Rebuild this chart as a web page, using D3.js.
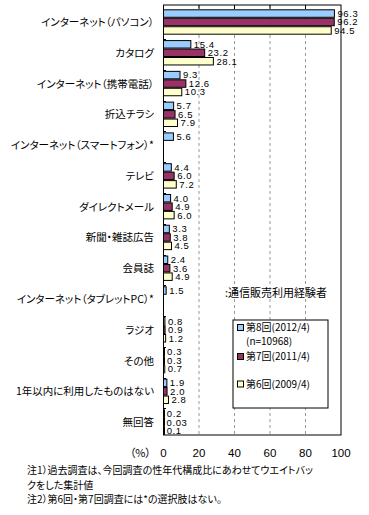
<!DOCTYPE html>
<html>
<head>
  <meta charset="utf-8">
  <style>
    body { margin: 0; background: #fff; }
    text { font-family: "Noto Sans CJK JP", sans-serif; fill: #000; font-feature-settings: "palt"; }
    .val { font-family: "Liberation Sans", Arial, sans-serif; font-size: 9.5px; letter-spacing: 0.6px; }
    .cat { font-size: 10.5px; }
    .grid { stroke: #999; stroke-dasharray: 3,3; }
  </style>
  <script src="https://d3js.org/d3.v7.min.js"></script>
</head>
<body>
  <script>
    const categories = [
      "インターネット（パソコン）", "カタログ", "インターネット（携帯電話）", "折込チラシ",
      "インターネット（スマートフォン）*", "テレビ", "ダイレクトメール", "新聞・雑誌広告",
      "会員誌", "インターネット（タブレットPC）*", "ラジオ", "その他",
      "1年以内に利用したものはない", "無回答"
    ];
    const series = ["第8回(2012/4)", "第7回(2011/4)", "第6回(2009/4)"];
    const colors = ["#99ccff", "#993366", "#ffffcc"];
    const wave8 = [96.3, 15.4, 9.3, 5.7, 5.6, 4.4, 4.0, 3.3, 2.4, 1.5, 0.8, 0.3, 1.9, 0.2];
    const wave7 = [96.2, 23.2, 12.6, 6.5, null, 6.0, 4.9, 3.8, 3.6, null, 0.9, 0.3, 2.0, 0.03];
    const wave6 = [94.5, 28.1, 10.3, 7.9, null, 7.2, 6.0, 4.5, 4.9, null, 1.2, 0.7, 2.8, 0.1];
    const valueText = [
      ["96.3", "15.4", "9.3", "5.7", "5.6", "4.4", "4.0", "3.3", "2.4", "1.5", "0.8", "0.3", "1.9", "0.2"],
      ["96.2", "23.2", "12.6", "6.5", null, "6.0", "4.9", "3.8", "3.6", null, "0.9", "0.3", "2.0", "0.03"],
      ["94.5", "28.1", "10.3", "7.9", null, "7.2", "6.0", "4.5", "4.9", null, "1.2", "0.7", "2.8", "0.1"]
    ];
    const xTicks = [0, 20, 40, 60, 80, 100];
    const notes = [
      "注1）過去調査は、今回調査の性年代構成比にあわせてウエイトバッ",
      "クをした集計値",
      "注2）第6回・第7回調査には*の選択肢はない。"
    ];

    const width = 369, height = 515;
    const plot = { left: 163.5, right: 341, top: 5, bottom: 435 };

    const svg = d3.select('body').append('svg')
      .attr('width', width).attr('height', height);

    const x = d3.scaleLinear().domain([0, 100]).range([plot.left, plot.right]);
    const y = d3.scaleBand().domain(categories).range([9.3, 434.8])
      .paddingInner(0.175).paddingOuter(0);
    const ySub = d3.scaleBand().domain([0, 1, 2]).range([0, y.bandwidth()]);

    // gridlines
    svg.selectAll('line.grid')
      .data(xTicks.filter(d => d > 0 && d < 100))
      .join('line').attr('class', 'grid')
      .attr('x1', d => x(d)).attr('x2', d => x(d))
      .attr('y1', plot.top).attr('y2', plot.bottom);

    // top ticks
    svg.selectAll('line.ttick')
      .data(xTicks.filter(d => d > 0 && d < 100))
      .join('line').attr('class', 'ttick')
      .attr('x1', d => x(d)).attr('x2', d => x(d))
      .attr('y1', plot.top).attr('y2', plot.top + 4)
      .attr('stroke', '#000');

    // category ticks on the left axis
    svg.selectAll('line.ctick')
      .data(categories.slice(1))
      .join('line').attr('class', 'ctick')
      .attr('x1', plot.left).attr('x2', plot.left + 2.5)
      .attr('y1', d => Math.round(y(d)) - 0.5).attr('y2', d => Math.round(y(d)) - 0.5)
      .attr('stroke', '#000');

    const all = [wave8, wave7, wave6];
    const bars = [];
    all.forEach((arr, s) => arr.forEach((v, i) => {
      if (v != null) bars.push({ s, i, v, label: valueText[s][i] });
    }));

    svg.selectAll('rect.bar')
      .data(bars)
      .join('rect').attr('class', 'bar')
      .attr('x', plot.left)
      .attr('y', d => y(categories[d.i]) + ySub(d.s) + 0.5)
      .attr('width', d => Math.max(1, x(d.v) - plot.left))
      .attr('height', ySub.bandwidth() - 1)
      .attr('fill', d => colors[d.s])
      .attr('stroke', '#000').attr('stroke-width', 1);

    svg.selectAll('text.val')
      .data(bars)
      .join('text').attr('class', 'val')
      .attr('x', d => x(d.v) + 3)
      .attr('y', d => y(categories[d.i]) + ySub(d.s) + ySub.bandwidth() / 2 + 3.4)
      .text(d => d.label);

    // frame
    svg.append('rect')
      .attr('x', plot.left).attr('y', plot.top)
      .attr('width', plot.right - plot.left).attr('height', plot.bottom - plot.top)
      .attr('fill', 'none').attr('stroke', '#000');

    // category labels
    svg.selectAll('text.cat')
      .data(categories)
      .join('text').attr('class', 'cat')
      .attr('x', 154)
      .attr('y', d => y(d) + y.bandwidth() / 2 + 4)
      .attr('text-anchor', 'end')
      .text(d => d);

    // x axis labels
    svg.selectAll('text.xt')
      .data(xTicks)
      .join('text').attr('class', 'xt')
      .attr('x', d => x(d)).attr('y', 457)
      .attr('text-anchor', 'middle')
      .style('font-family', '"Liberation Sans", Arial, sans-serif')
      .style('font-size', '11.5px')
      .text(d => d);
    svg.append('text').attr('x', 151).attr('y', 457)
      .attr('text-anchor', 'end').style('font-size', '11px').text('（%）');

    // subtitle in plot
    svg.append('text').attr('x', 225).attr('y', 297)
      .style('font-size', '11px').text(':通信販売利用経験者');

    // legend
    const lg = svg.append('g');
    lg.append('rect').attr('x', 233).attr('y', 320).attr('width', 95).attr('height', 88)
      .attr('fill', '#fff').attr('stroke', '#000');
    const legendY = [327.5, 356.5, 384];
    series.forEach((s, k) => {
      lg.append('rect').attr('x', 237.5).attr('y', legendY[k] - 3).attr('width', 6).attr('height', 6)
        .attr('fill', colors[k]).attr('stroke', '#000');
      lg.append('text').attr('x', 246).attr('y', legendY[k] + 3.5)
        .style('font-size', '10px').text(s);
    });
    lg.append('text').attr('x', 246).attr('y', 344.5).style('font-size', '10px').text('(n=10968)');

    // notes
    svg.selectAll('text.note')
      .data(notes)
      .join('text').attr('class', 'note')
      .attr('x', 27).attr('y', (d, i) => 474 + i * 14.5)
      .style('font-size', '10px')
      .text(d => d);
  </script>
</body>
</html>
